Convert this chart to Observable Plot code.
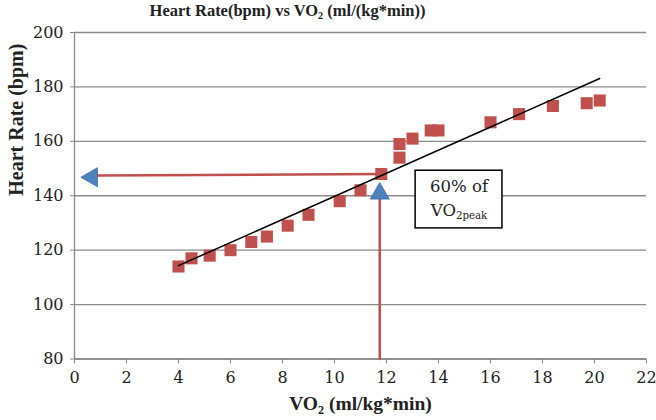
<!DOCTYPE html>
<html>
<head>
<meta charset="utf-8">
<script src="https://cdn.jsdelivr.net/npm/d3@7"></script>
<script src="https://cdn.jsdelivr.net/npm/@observablehq/plot@0.6"></script>
<style>
  html, body { margin: 0; padding: 0; background: #fff; }
</style>
</head>
<body>
<div id="chart"></div>
<script>
// ---- data ----
const vo2 = [4.0, 4.5, 5.2, 6.0, 6.8, 7.4, 8.2, 9.0, 10.2, 11.0, 11.8, 12.5, 12.5, 13.0, 13.7, 14.0, 16.0, 17.1, 18.4, 19.7, 20.2];
const hr  = [114, 117, 118, 120, 123, 125, 129, 133, 138, 142, 148, 154, 159, 161, 164, 164, 167, 170, 173, 174, 175];
const xTicks = [0, 2, 4, 6, 8, 10, 12, 14, 16, 18, 20, 22];
const yTicks = [80, 100, 120, 140, 160, 180, 200];
const titleText = "Heart Rate(bpm) vs VO2 (ml/(kg*min))";
const xLabel = "VO2 (ml/kg*min)";
const yLabel = "Heart Rate (bpm)";
// annotation: 60% of VO2peak
const hArrowLine = [{x: 11.8, y: 148.0}, {x: 0.9, y: 147.4}];
const hArrowHead = [{x: 0.67, y: 146.8}];
const vArrowLine = [{x: 11.74, y: 80}, {x: 11.74, y: 138.8}];
const vArrowHead = [{x: 11.74, y: 140.8}];
const noteBox = [{x1: 13.12, x2: 16.46, y1: 128.0, y2: 149.2}];
const noteLines = [{x: 14.79, y: 143.3, text: "60% of"}, {x: 14.79, y: 134.5, text: "VO2peak"}];

const data = vo2.map((v, i) => ({vo2: v, hr: hr[i]}));

const gray = "#8a8a8a";
const red = "#c0504d";
const blue = "#4f81bd";

const plot = Plot.plot({
  width: 656,
  height: 420,
  marginLeft: 74,
  marginRight: 10,
  marginTop: 32,
  marginBottom: 61.5,
  style: {fontFamily: "DejaVu Serif", fontSize: "16px", background: "#fff", overflow: "visible"},
  x: {domain: [0, 22]},
  y: {domain: [80, 200]},
  marks: [
    Plot.gridY(yTicks, {stroke: gray, strokeOpacity: 1, strokeWidth: 1.3}),
    Plot.ruleX([0], {stroke: gray, strokeWidth: 1.3}),
    Plot.ruleY([80], {stroke: gray, strokeWidth: 1.3}),
    Plot.axisX(xTicks, {tickSize: 5, tickPadding: 8, stroke: gray, fill: "#222", label: null, fontSize: 16}),
    Plot.axisY(yTicks, {tickSize: 4, tickPadding: 7, stroke: gray, fill: "#222", label: null, fontSize: 16}),
    // annotation arrows
    Plot.line(hArrowLine, {x: "x", y: "y", stroke: red, strokeWidth: 2.5}),
    Plot.line(vArrowLine, {x: "x", y: "y", stroke: red, strokeWidth: 2.5}),
    Plot.dot(hArrowHead, {x: "x", y: "y", symbol: "triangle", r: 7.1, rotate: -90, fill: blue, stroke: "#3f6fa8", strokeWidth: 0.8}),
    Plot.dot(vArrowHead, {x: "x", y: "y", symbol: "triangle", r: 7.1, fill: blue, stroke: "#3f6fa8", strokeWidth: 0.8}),
    // data
    Plot.dot(data, {x: "vo2", y: "hr", symbol: "square", r: 6.8, fill: red}),
    Plot.linearRegressionY(data, {x: "vo2", y: "hr", stroke: "black", strokeWidth: 1.5, ci: 0}),
    // note box
    Plot.rect(noteBox, {x1: "x1", x2: "x2", y1: "y1", y2: "y2", fill: "white", stroke: "black", strokeWidth: 1.5}),
    Plot.text(noteLines, {x: "x", y: "y", text: "text", fontFamily: "DejaVu Serif", fontSize: 16.5, fill: "#222", lineAnchor: "middle"}),
    // titles
    Plot.text([titleText], {frameAnchor: "top", dx: -73, dy: -22, lineAnchor: "middle", fontFamily: "Liberation Serif", fontWeight: "bold", fontSize: 16.5, fill: "#222"}),
    Plot.text([xLabel], {frameAnchor: "bottom", dy: 45, lineAnchor: "middle", fontFamily: "Liberation Serif", fontWeight: "bold", fontSize: 19.5, fill: "#222"}),
    Plot.text([yLabel], {frameAnchor: "left", dx: -58, rotate: -90, lineAnchor: "middle", fontFamily: "Liberation Serif", fontWeight: "bold", fontSize: 20, fill: "#222"})
  ]
});

// subscript the "2" (and "2peak") after VO
const ns = "http://www.w3.org/2000/svg";
plot.querySelectorAll("text").forEach(t => {
  if (t.querySelector("tspan")) return;
  const s = t.textContent;
  const m = s.match(/^(.*VO)(2(?:peak)?)(.*)$/);
  if (!m) return;
  t.textContent = "";
  const a = document.createElementNS(ns, "tspan"); a.textContent = m[1];
  const b = document.createElementNS(ns, "tspan"); b.textContent = m[2];
  b.setAttribute("font-size", "62%"); b.setAttribute("dy", "0.3em");
  t.appendChild(a); t.appendChild(b);
  if (m[3]) {
    const c = document.createElementNS(ns, "tspan"); c.textContent = m[3];
    c.setAttribute("dy", "-0.186em");
    t.appendChild(c);
  }
});

document.getElementById("chart").appendChild(plot);
</script>
</body>
</html>
